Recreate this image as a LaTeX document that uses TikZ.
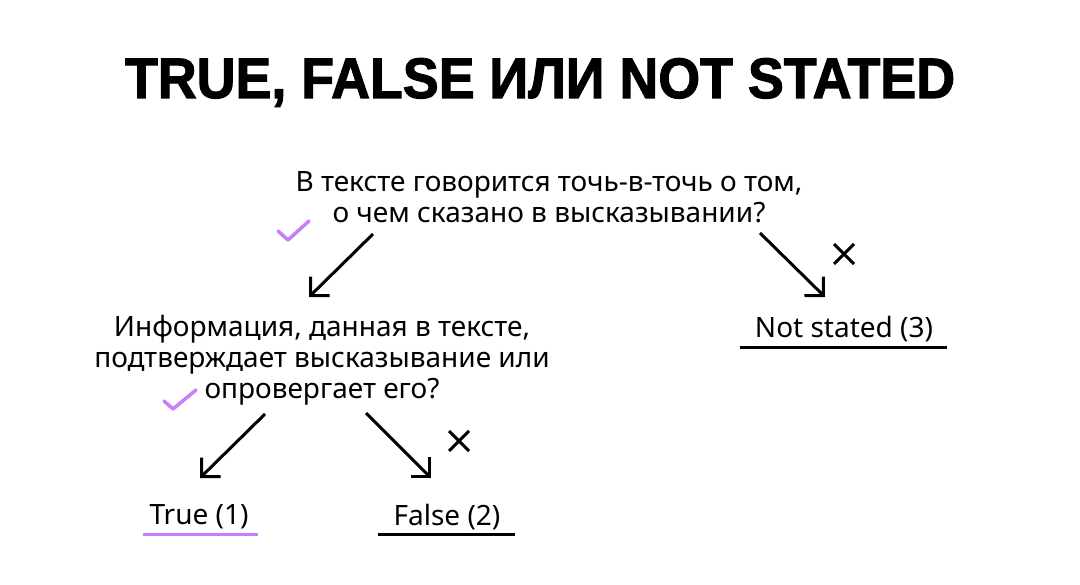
\documentclass[tikz,border=0pt]{standalone}
\usepackage{fontspec}
\setmainfont{Noto Sans}
\newfontfamily\titlefont{Liberation Sans}[FakeBold=2]
\usetikzlibrary{arrows.meta,calc}
\definecolor{lilac}{RGB}{199,128,250}
\begin{document}
\begin{tikzpicture}[x=1pt,y=-1pt,
  txt/.style={font=\fontsize{28}{31}\selectfont, inner sep=0pt, align=center},
  arr/.style={line width=3pt, -{Straight Barb[angle=90:19pt]}},
  uline/.style={line width=3pt},
  tick/.style={line width=3.5pt, lilac, line cap=round, line join=round},
  crossmark/.style={line width=3pt}]
\useasboundingbox (0,0) rectangle (1080,585);
\fill[white] (0,0) rectangle (1080,585);
% title
\node[inner sep=0pt, font=\titlefont\bfseries\fontsize{57}{60}\selectfont, anchor=base] (title) at (540,98)
  {\resizebox{830pt}{\height}{TRUE, FALSE ИЛИ NOT STATED}};
% texts
\node[txt] (q1) at (549,197) {В тексте говорится точь-в-точь о том,\\о чем сказано в высказывании?};
\node[txt] (q2) at (322,360) {Информация, данная в тексте,\\подтверждает высказывание или\\опровергает его?};
\node[txt] (ns) at (844,329) {Not stated (3)};
\node[txt] (tr) at (199,517) {True (1)};
\node[txt] (fl) at (447,517) {False (2)};
% arrows
\coordinate (a1s) at (373,234); \coordinate (a1e) at (309,297);
\coordinate (a2s) at (760,233); \coordinate (a2e) at (825,297);
\coordinate (a3s) at (265,414); \coordinate (a3e) at (200,478);
\coordinate (a4s) at (366,413); \coordinate (a4e) at (431,478);
\draw[arr] (a1s) -- (a1e);
\draw[arr] (a2s) -- (a2e);
\draw[arr] (a3s) -- (a3e);
\draw[arr] (a4s) -- (a4e);
% underlines
\coordinate (u1l) at (740,348); \coordinate (u1r) at (947,348);
\coordinate (u2l) at (143,534); \coordinate (u2r) at (258,534);
\coordinate (u3l) at (378,534); \coordinate (u3r) at (515,534);
\draw[uline] (u1l) -- (u1r);
\draw[uline, lilac] (u2l) -- (u2r);
\draw[uline] (u3l) -- (u3r);
% crosses
\coordinate (x1) at (844,254);
\coordinate (x2) at (459,441);
\draw[crossmark] ($(x1)+(-10,-10)$) -- ($(x1)+(10,10)$) ($(x1)+(10,-10)$) -- ($(x1)+(-10,10)$);
\draw[crossmark] ($(x2)+(-10,-10)$) -- ($(x2)+(10,10)$) ($(x2)+(10,-10)$) -- ($(x2)+(-10,10)$);
% ticks
\coordinate (t1a) at (278,231); \coordinate (t1b) at (288,240); \coordinate (t1c) at (309,221);
\coordinate (t2a) at (164,401); \coordinate (t2b) at (173,409); \coordinate (t2c) at (196,390);
\draw[tick] (t1a) -- (t1b) -- (t1c);
\draw[tick] (t2a) -- (t2b) -- (t2c);
\end{tikzpicture}
\end{document}
